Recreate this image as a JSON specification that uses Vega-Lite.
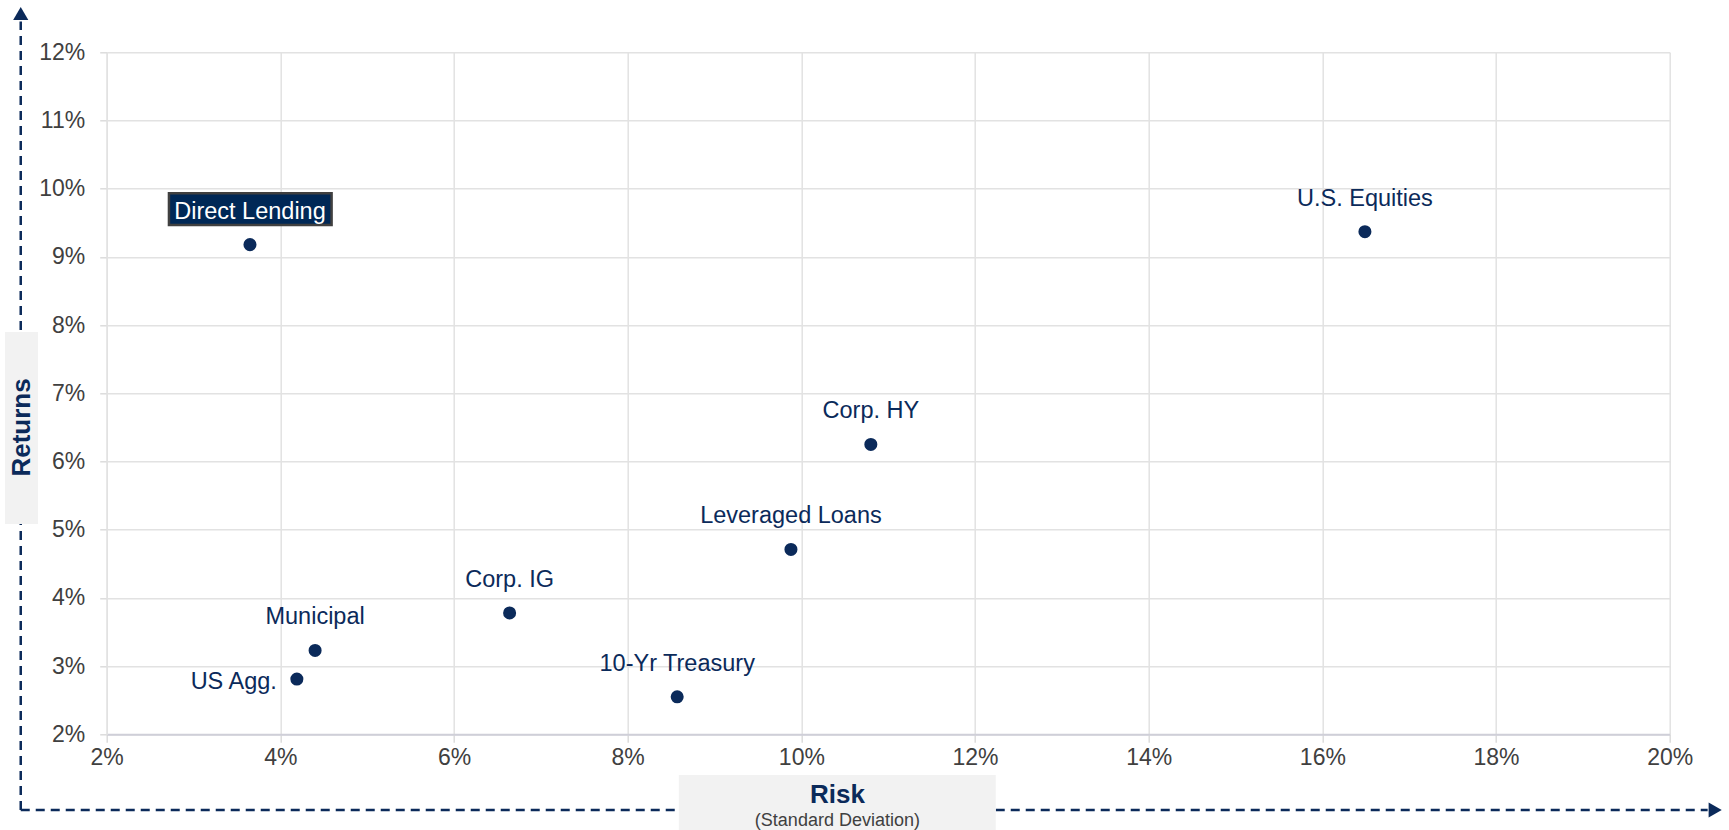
{
  "$schema": "https://vega.github.io/schema/vega-lite/v6.json",
  "width": 1563,
  "height": 682,
  "autosize": {"type": "none"},
  "padding": {"left": 106.7, "top": 52.3, "right": 59.3, "bottom": 95.7},
  "background": "white",
  "config": {"view": {"stroke": null}, "font": "Liberation Sans"},
  "datasets": {
    "assets": [
      {"name": "Direct Lending", "risk": 3.65, "ret": 9.18},
      {"name": "U.S. Equities", "risk": 16.49, "ret": 9.37},
      {"name": "Corp. HY", "risk": 10.80, "ret": 6.25},
      {"name": "Leveraged Loans", "risk": 9.88, "ret": 4.71},
      {"name": "Corp. IG", "risk": 6.64, "ret": 3.78},
      {"name": "10-Yr Treasury", "risk": 8.57, "ret": 2.55},
      {"name": "Municipal", "risk": 4.40, "ret": 3.23},
      {"name": "US Agg.", "risk": 4.19, "ret": 2.81}
    ],
    "one": [{}]
  },
  "data": {"name": "assets"},
  "layer": [
    {
      "mark": {"type": "point", "filled": true, "size": 170, "color": "#0b2a5a", "opacity": 1},
      "encoding": {
        "x": {
          "field": "risk", "type": "quantitative",
          "scale": {"domain": [2, 20], "nice": false, "zero": false},
          "axis": {
            "title": null, "values": [2, 4, 6, 8, 10, 12, 14, 16, 18, 20],
            "labelExpr": "datum.value + '%'", "labelFlush": false, "labelOverlap": false,
            "labelFontSize": 23, "labelColor": "#404040", "labelFont": "Liberation Sans",
            "labelPadding": 4, "tickSize": 8, "tickColor": "#dcdcdc", "tickWidth": 1.5,
            "gridColor": "#e2e2e2", "gridWidth": 1.5,
            "domainColor": "#cfcfd8", "domainWidth": 2
          }
        },
        "y": {
          "field": "ret", "type": "quantitative",
          "scale": {"domain": [2, 12], "nice": false, "zero": false},
          "axis": {
            "title": null, "values": [2, 3, 4, 5, 6, 7, 8, 9, 10, 11, 12],
            "labelExpr": "datum.value + '%'", "labelFlush": false, "labelOverlap": false,
            "labelFontSize": 23, "labelColor": "#404040", "labelFont": "Liberation Sans",
            "labelPadding": 15, "tickSize": 7, "tickColor": "#dcdcdc", "tickWidth": 1.5,
            "gridColor": "#e2e2e2", "gridWidth": 1.5,
            "domainColor": "#e2e2e2", "domainWidth": 1.5
          }
        }
      }
    },
    {
      "data": {"name": "one"},
      "mark": {"type": "rule", "color": "#0b2a5a", "strokeWidth": 2.5, "strokeDash": [9, 6]},
      "encoding": {
        "x": {"datum": 1.01, "type": "quantitative"},
        "y": {"datum": 0.89, "type": "quantitative"},
        "y2": {"datum": 12.45}
      }
    },
    {
      "data": {"name": "one"},
      "mark": {"type": "rule", "color": "#0b2a5a", "strokeWidth": 2.5, "strokeDash": [9, 6]},
      "encoding": {
        "x": {"datum": 1.01, "type": "quantitative"},
        "x2": {"datum": 20.437},
        "y": {"datum": 0.89, "type": "quantitative"}
      }
    },
    {
      "data": {"name": "one"},
      "mark": {"type": "point", "shape": "triangle-up", "filled": true, "size": 230, "color": "#0b2a5a", "opacity": 1},
      "encoding": {
        "x": {"datum": 1.01, "type": "quantitative"},
        "y": {"datum": 12.569, "type": "quantitative"}
      }
    },
    {
      "data": {"name": "one"},
      "mark": {"type": "point", "shape": "triangle-right", "filled": true, "size": 230, "color": "#0b2a5a", "opacity": 1},
      "encoding": {
        "x": {"datum": 20.524, "type": "quantitative"},
        "y": {"datum": 0.89, "type": "quantitative"}
      }
    },
    {
      "data": {"name": "one"},
      "mark": {"type": "rect", "color": "#f2f2f2", "opacity": 1},
      "encoding": {
        "x": {"datum": 0.829, "type": "quantitative"},
        "x2": {"datum": 1.209},
        "y": {"datum": 7.899, "type": "quantitative"},
        "y2": {"datum": 5.084}
      }
    },
    {
      "data": {"name": "one"},
      "mark": {"type": "rect", "color": "#f2f2f2", "opacity": 1},
      "encoding": {
        "x": {"datum": 8.589, "type": "quantitative"},
        "x2": {"datum": 12.239},
        "y": {"datum": 1.403, "type": "quantitative"},
        "y2": {"datum": 0.5}
      }
    },
    {
      "data": {"name": "one"},
      "mark": {"type": "text", "text": "Risk", "fontSize": 26, "fontWeight": "bold", "color": "#0b2a5a", "align": "center", "baseline": "middle"},
      "encoding": {
        "x": {"datum": 10.415, "type": "quantitative"},
        "y": {"datum": 1.11, "type": "quantitative"}
      }
    },
    {
      "data": {"name": "one"},
      "mark": {"type": "text", "text": "(Standard Deviation)", "fontSize": 18, "color": "#404040", "align": "center", "baseline": "middle"},
      "encoding": {
        "x": {"datum": 10.415, "type": "quantitative"},
        "y": {"datum": 0.73, "type": "quantitative"}
      }
    },
    {
      "data": {"name": "one"},
      "mark": {"type": "text", "text": "Returns", "fontSize": 26, "fontWeight": "bold", "color": "#0b2a5a", "align": "center", "baseline": "middle", "angle": 270},
      "encoding": {
        "x": {"datum": 1.025, "type": "quantitative"},
        "y": {"datum": 6.5, "type": "quantitative"}
      }
    },
    {
      "data": {"name": "one"},
      "mark": {"type": "rect", "color": "#002856", "stroke": "#404040", "strokeWidth": 2.5, "opacity": 1},
      "encoding": {
        "x": {"datum": 2.717, "type": "quantitative"},
        "x2": {"datum": 4.59},
        "y": {"datum": 9.933, "type": "quantitative"},
        "y2": {"datum": 9.468}
      }
    },
    {
      "transform": [{"filter": "datum.name !== 'US Agg.'"}],
      "mark": {"type": "text", "fontSize": 23.5, "align": "center", "baseline": "middle", "dy": -33},
      "encoding": {
        "x": {"field": "risk", "type": "quantitative"},
        "y": {"field": "ret", "type": "quantitative"},
        "text": {"field": "name"},
        "color": {
          "condition": {"test": "datum.name === 'Direct Lending'", "value": "#ffffff"},
          "value": "#0b2a5a"
        }
      }
    },
    {
      "transform": [{"filter": "datum.name === 'US Agg.'"}],
      "mark": {"type": "text", "fontSize": 23.5, "align": "right", "baseline": "middle", "dx": -20, "dy": 3, "color": "#0b2a5a"},
      "encoding": {
        "x": {"field": "risk", "type": "quantitative"},
        "y": {"field": "ret", "type": "quantitative"},
        "text": {"field": "name"}
      }
    }
  ]
}
